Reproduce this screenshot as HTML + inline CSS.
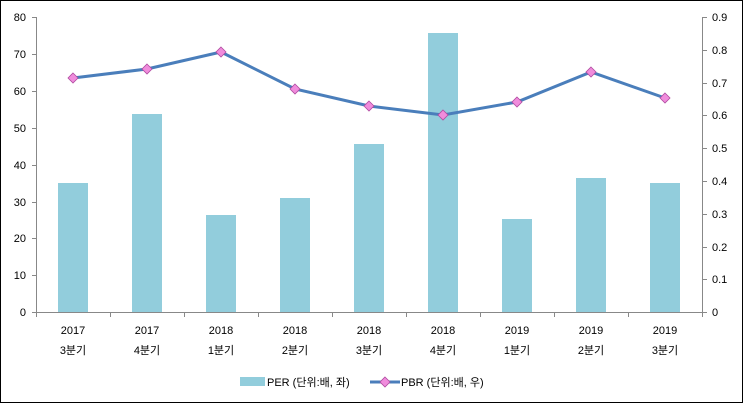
<!DOCTYPE html><html><head><meta charset="utf-8"><style>body{margin:0}svg{display:block}text{font-family:"Liberation Sans","Noto Sans CJK KR",sans-serif;font-size:11px;fill:#000}</style></head><body>
<svg width="743" height="403" xmlns="http://www.w3.org/2000/svg">
<rect x="0.5" y="0.5" width="742" height="402" fill="#fff" stroke="#000"/>
<g stroke="#888" fill="none">
<line x1="36.5" y1="17" x2="36.5" y2="312"/><line x1="702.5" y1="17" x2="702.5" y2="312"/>
<line x1="36" y1="312.5" x2="703" y2="312.5"/>
<path d="M32 17.5h4M32 54.5h4M32 91.5h4M32 128.5h4M32 165.5h4M32 202.5h4M32 238.5h4M32 275.5h4M32 312.5h4"/>
<path d="M703 17.5h4M703 50.5h4M703 83.5h4M703 115.5h4M703 148.5h4M703 181.5h4M703 214.5h4M703 247.5h4M703 279.5h4M703 312.5h4"/>
<path d="M36.5 312v5M110.5 312v5M184.5 312v5M258.5 312v5M332.5 312v5M406.5 312v5M480.5 312v5M554.5 312v5M628.5 312v5M702.5 312v5"/>
</g>
<g text-anchor="end"><text x="26" y="21">80</text><text x="26" y="58">70</text><text x="26" y="95">60</text><text x="26" y="132">50</text><text x="26" y="169">40</text><text x="26" y="206">30</text><text x="26" y="242">20</text><text x="26" y="279">10</text><text x="26" y="316">0</text></g>
<g><text x="712" y="21">0.9</text><text x="712" y="54">0.8</text><text x="712" y="87">0.7</text><text x="712" y="119">0.6</text><text x="712" y="152">0.5</text><text x="712" y="185">0.4</text><text x="712" y="218">0.3</text><text x="712" y="251">0.2</text><text x="712" y="283">0.1</text><text x="712" y="316">0</text></g>
<g fill="#92cddc">
<rect x="58" y="183" width="30" height="129"/><rect x="132" y="114" width="30" height="198"/><rect x="206" y="215" width="30" height="97"/><rect x="280" y="198" width="30" height="114"/><rect x="354" y="144" width="30" height="168"/><rect x="428" y="33" width="30" height="279"/><rect x="502" y="219" width="30" height="93"/><rect x="576" y="178" width="30" height="134"/><rect x="650" y="183" width="30" height="129"/>
</g>
<polyline fill="none" stroke="#4a7ebb" stroke-width="3" points="73,78 147,69 221,52 295,89 369,106 443,115 517,102 591,72 665,98"/>
<g fill="#f08cdc" stroke="#b04aa0" stroke-width="0.8">
<path d="M73 73l5 5-5 5-5-5z"/><path d="M147 64l5 5-5 5-5-5z"/><path d="M221 47l5 5-5 5-5-5z"/><path d="M295 84l5 5-5 5-5-5z"/><path d="M369 101l5 5-5 5-5-5z"/><path d="M443 110l5 5-5 5-5-5z"/><path d="M517 97l5 5-5 5-5-5z"/><path d="M591 67l5 5-5 5-5-5z"/><path d="M665 93l5 5-5 5-5-5z"/>
</g>
<g text-anchor="middle">
<text x="73" y="334">2017</text><text x="147" y="334">2017</text><text x="221" y="334">2018</text><text x="295" y="334">2018</text><text x="369" y="334">2018</text><text x="443" y="334">2018</text><text x="517" y="334">2019</text><text x="591" y="334">2019</text><text x="665" y="334">2019</text>
<text x="73" y="354">3분기</text><text x="147" y="354">4분기</text><text x="221" y="354">1분기</text><text x="295" y="354">2분기</text><text x="369" y="354">3분기</text><text x="443" y="354">4분기</text><text x="517" y="354">1분기</text><text x="591" y="354">2분기</text><text x="665" y="354">3분기</text>
</g>
<rect x="240" y="377" width="25" height="9" fill="#92cddc"/>
<text x="267" y="386">PER (단위:배, 좌)</text>
<line x1="370" y1="382" x2="400" y2="382" stroke="#4a7ebb" stroke-width="3"/>
<path d="M385 377l5 5-5 5-5-5z" fill="#f08cdc" stroke="#b04aa0" stroke-width="0.8"/>
<text x="401" y="386">PBR (단위:배, 우)</text>
</svg></body></html>
